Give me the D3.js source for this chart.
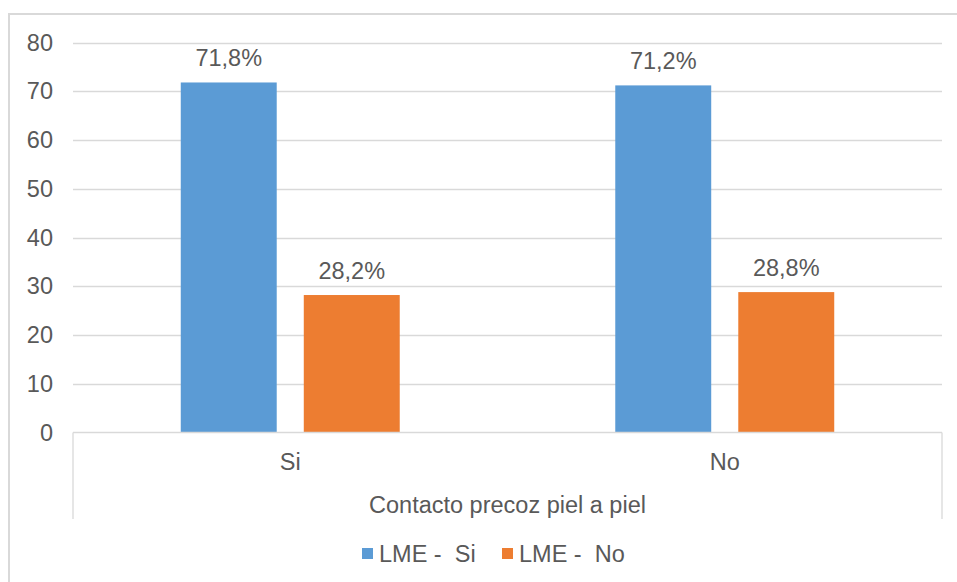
<!DOCTYPE html>
<html>
<head>
<meta charset="utf-8">
<script src="https://cdn.jsdelivr.net/npm/d3@7"></script>
<style>
  html, body { margin: 0; padding: 0; background: #fff; }
  svg { display: block; font-family: "Liberation Sans", Arial, sans-serif; }
</style>
</head>
<body>
<svg id="chart" width="957" height="582"></svg>
<script>
// Categories, series and values
const categories = ["Si", "No"];
const seriesNames = ["LME -  Si", "LME -  No"];
const valuesLmeSi = [71.8, 71.2];
const valuesLmeNo = [28.2, 28.8];
const yTicks = [0, 10, 20, 30, 40, 50, 60, 70, 80];
const axisTitle = "Contacto precoz piel a piel";
const colors = ["#5B9BD5", "#ED7D31"];

const seriesValues = [valuesLmeSi, valuesLmeNo];
const rows = categories.map((c, i) => ({
  category: c,
  values: seriesNames.map((s, j) => ({ series: s, idx: j, value: seriesValues[j][i] }))
}));

const svg = d3.select("#chart");
const textColor = "#595959";
const gridColor = "#d9d9d9";
const fs = 23.5;

// Outer chart frame
svg.append("rect")
  .attr("x", 9).attr("y", 14)
  .attr("width", 1000).attr("height", 1000)
  .attr("fill", "none").attr("stroke", gridColor).attr("stroke-width", 2);

const plotLeft = 73, plotRight = 942;
const y = d3.scaleLinear().domain([0, 80]).range([432.5, 42.5]);
const x0 = d3.scaleBand().domain(categories).range([plotLeft, plotRight]);
const x1 = d3.scaleBand().domain(seriesNames).range([0, x0.bandwidth()])
  .paddingInner(0.22).paddingOuter(0.876);

// Gridlines
svg.append("g").selectAll("line")
  .data(yTicks.filter(t => t > 0))
  .join("line")
  .attr("x1", plotLeft).attr("x2", plotRight)
  .attr("y1", d => Math.round(y(d)) + 0.5).attr("y2", d => Math.round(y(d)) + 0.5)
  .attr("stroke", gridColor).attr("stroke-width", 1.3);

// Y axis labels
const yAxis = d3.axisLeft(y).tickValues(yTicks).tickSize(0).tickPadding(0);
const gy = svg.append("g").attr("transform", "translate(53,0)").call(yAxis);
gy.select(".domain").remove();
gy.selectAll("text")
  .attr("fill", textColor).attr("font-size", fs)
  .attr("font-family", "'Liberation Sans', Arial, sans-serif");

// Bars
const groups = svg.append("g").selectAll("g")
  .data(rows).join("g")
  .attr("transform", d => `translate(${x0(d.category)},0)`);

groups.selectAll("rect")
  .data(d => d.values).join("rect")
  .attr("x", d => x1(d.series))
  .attr("width", x1.bandwidth())
  .attr("y", d => y(d.value))
  .attr("height", d => y(0) - y(d.value))
  .attr("fill", d => colors[d.idx]);

// Value labels
groups.selectAll("text.val")
  .data(d => d.values).join("text")
  .attr("class", "val")
  .attr("x", d => x1(d.series) + x1.bandwidth() / 2)
  .attr("y", d => y(d.value) - 16)
  .attr("text-anchor", "middle")
  .attr("fill", textColor).attr("font-size", fs)
  .text(d => d.value.toFixed(1).replace(".", ",") + "%");

// Category axis: baseline and outer separators
svg.append("line")
  .attr("x1", plotLeft).attr("x2", plotRight)
  .attr("y1", y(0)).attr("y2", y(0))
  .attr("stroke", gridColor).attr("stroke-width", 1.3);

svg.append("g").selectAll("line")
  .data([plotLeft, plotRight]).join("line")
  .attr("x1", d => d).attr("x2", d => d)
  .attr("y1", y(0)).attr("y2", 519)
  .attr("stroke", gridColor).attr("stroke-width", 1.3);

const xAxis = d3.axisBottom(x0).tickSize(0).tickPadding(0);
const gx = svg.append("g").attr("transform", "translate(0,470)").call(xAxis);
gx.select(".domain").remove();
gx.selectAll("text")
  .attr("dy", 0)
  .attr("fill", textColor).attr("font-size", fs)
  .attr("font-family", "'Liberation Sans', Arial, sans-serif");

svg.append("text")
  .attr("x", (plotLeft + plotRight) / 2).attr("y", 513)
  .attr("text-anchor", "middle")
  .attr("fill", textColor).attr("font-size", fs)
  .text(axisTitle);

// Legend
const legendItems = [{ x: 362, name: seriesNames[0], c: colors[0] },
                     { x: 502, name: seriesNames[1], c: colors[1] }];
const lg = svg.append("g").selectAll("g").data(legendItems).join("g")
  .attr("transform", d => `translate(${d.x},0)`);
lg.append("rect").attr("x", 0).attr("y", 548).attr("width", 11).attr("height", 11)
  .attr("fill", d => d.c);
lg.append("text").attr("x", 17).attr("y", 562)
  .attr("fill", textColor).attr("font-size", fs)
  .attr("xml:space", "preserve").style("white-space", "pre")
  .text(d => d.name);
</script>
</body>
</html>
